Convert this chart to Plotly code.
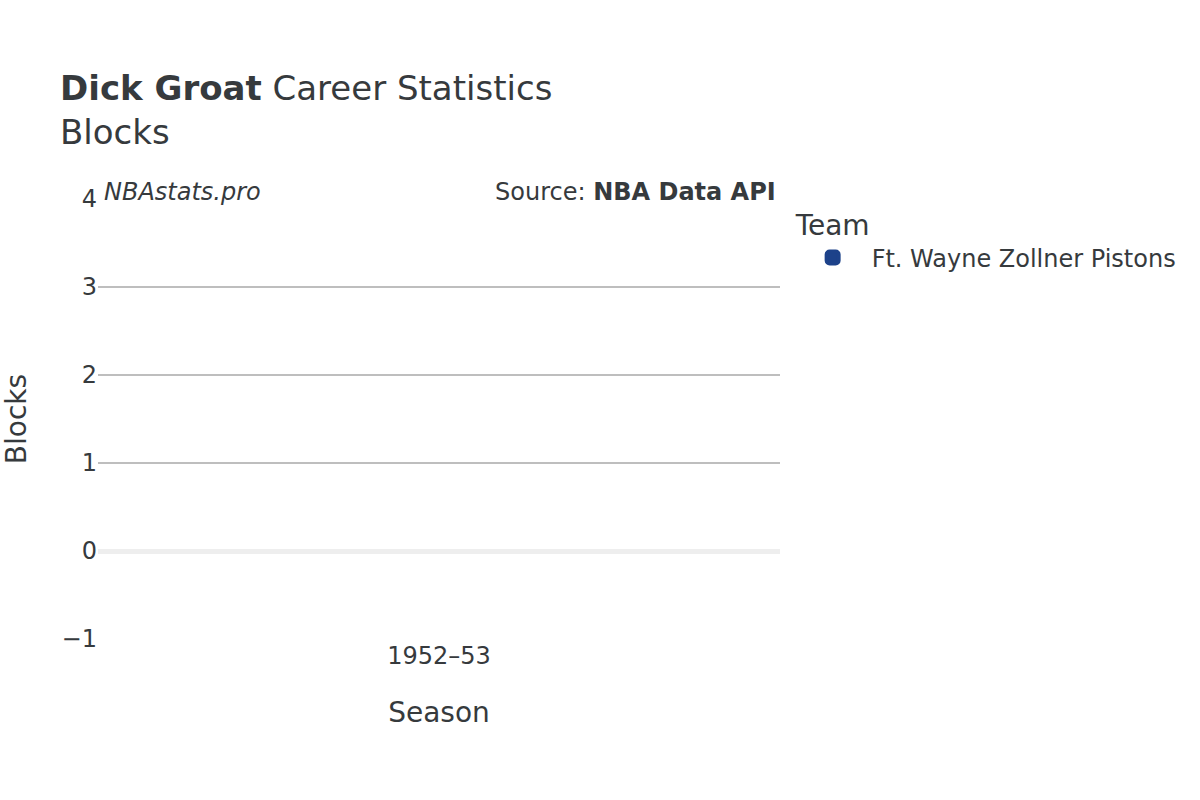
import plotly.graph_objects as go

# data
seasons = ["1952–53"]
teams = ["Ft. Wayne Zollner Pistons"]
blocks = [0]
team_colors = ["#1D428A"]

player = "Dick Groat"
stat = "Blocks"

fig = go.Figure()
for team, color in zip(teams, team_colors):
    fig.add_trace(go.Bar(x=seasons, y=blocks, name=team,
                         marker=dict(color=color, cornerradius=4,
                                     line=dict(color=color, width=4))))

fig.update_layout(
    width=1200, height=800,
    font=dict(family="DejaVu Sans", color="#363a3d", size=24),
    title=dict(text=f"<b>{player}</b> Career Statistics<br>{stat}",
               x=0.05, xanchor="left", y=0.875, yanchor="top",
               font=dict(size=34)),
    plot_bgcolor="white", paper_bgcolor="white",
    margin=dict(l=98, r=420, t=199, b=161),
    legend=dict(title=dict(text="Team", font=dict(size=28)),
                x=1.02, xanchor="left", y=1, yanchor="top",
                itemwidth=68, font=dict(size=24)),
    showlegend=True,
)
# zero line sits above the bars so a zero-height bar stays hidden
fig.update_yaxes(title=dict(text="Blocks", font=dict(size=28), standoff=30),
                 range=[-1, 4], dtick=1, zerolinelayer="above traces",
                 gridcolor="#bebebe", gridwidth=1.5,
                 zeroline=True, zerolinecolor="#eeeeee", zerolinewidth=5,
                 tickfont=dict(size=24))
fig.update_xaxes(title=dict(text="Season", font=dict(size=28), standoff=33),
                 tickfont=dict(size=24), showgrid=False)

fig.add_annotation(text="<i>NBAstats.pro</i>", x=0, y=1, xref="paper", yref="paper",
                   xanchor="left", yanchor="bottom", showarrow=False,
                   xshift=4, yshift=-9, font=dict(size=24))
fig.add_annotation(text="Source: <b>NBA Data API</b>", x=1, y=1, xref="paper", yref="paper",
                   xanchor="right", yanchor="bottom", showarrow=False,
                   xshift=-2, yshift=-9, font=dict(size=24))

fig.write_html("out.html", config={"displayModeBar": False},
               post_script="document.body.style.margin='0';")
